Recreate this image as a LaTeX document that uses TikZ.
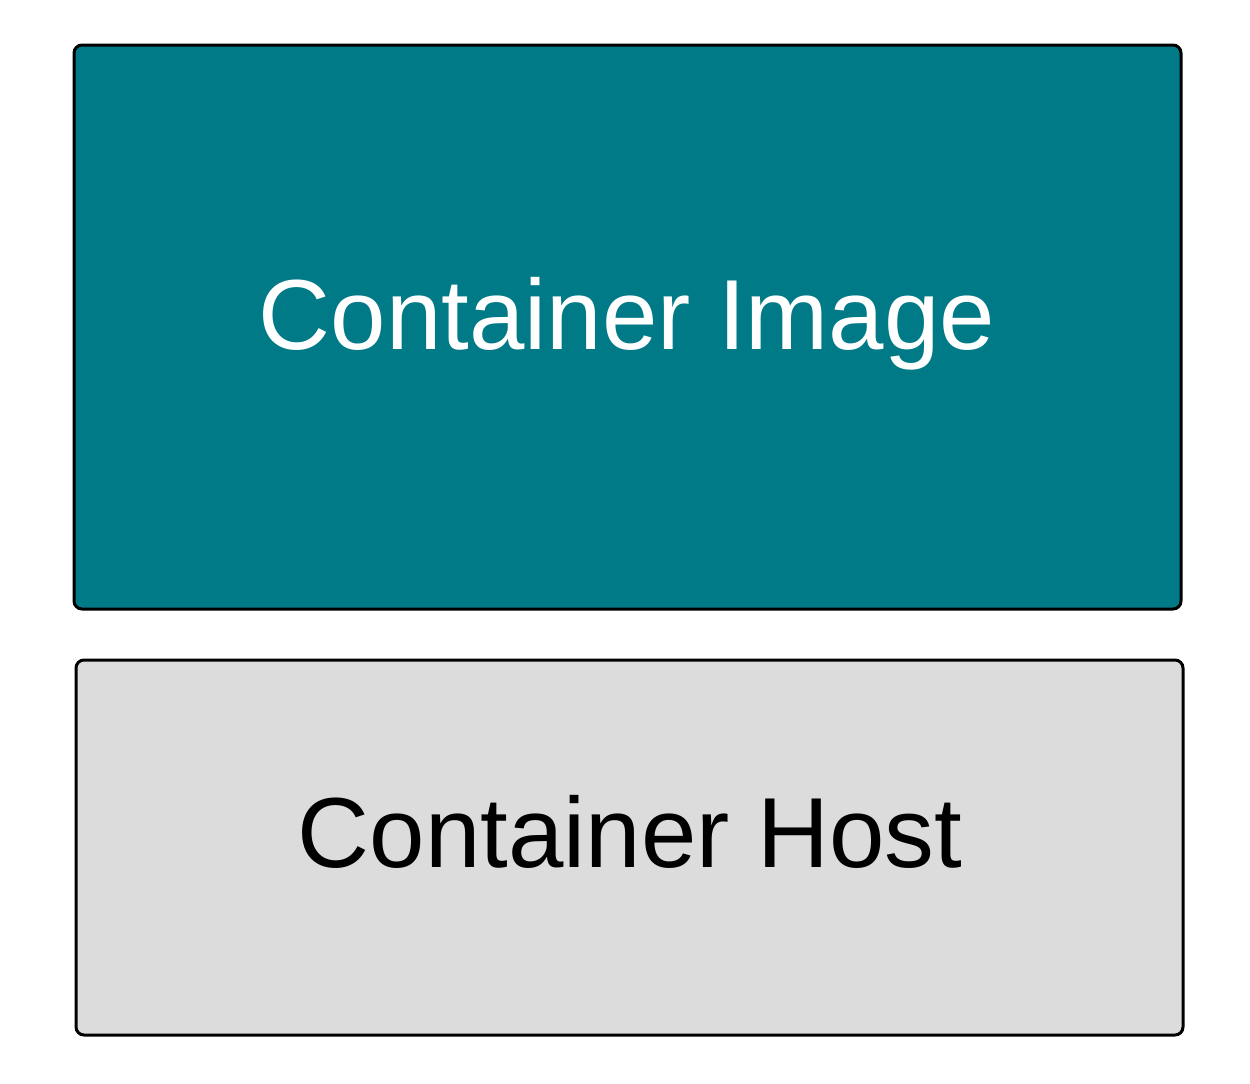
\documentclass[tikz,border=0pt]{standalone}
\usepackage{fontspec}
\setmainfont{Liberation Sans}
\definecolor{teal1}{HTML}{007A87}
\definecolor{gray1}{HTML}{DCDCDC}
\begin{document}
\begin{tikzpicture}[x=1pt,y=-1pt,
  boxstyle/.style={draw=black,line width=3pt,rounded corners=8pt},
  labelstyle/.style={anchor=base,inner sep=0pt,font=\fontsize{99.6}{110}\selectfont}]
\useasboundingbox (0,0) rectangle (1250,1084);
\draw[boxstyle,fill=teal1] (74,45) rectangle (1181,609);
\draw[boxstyle,fill=gray1] (76,660) rectangle (1183,1035);
\node[labelstyle,text=white] (img) at (627,349) {Container Image};
\node[labelstyle,text=black] (host) at (630,867) {Container Host};
\end{tikzpicture}
\end{document}
